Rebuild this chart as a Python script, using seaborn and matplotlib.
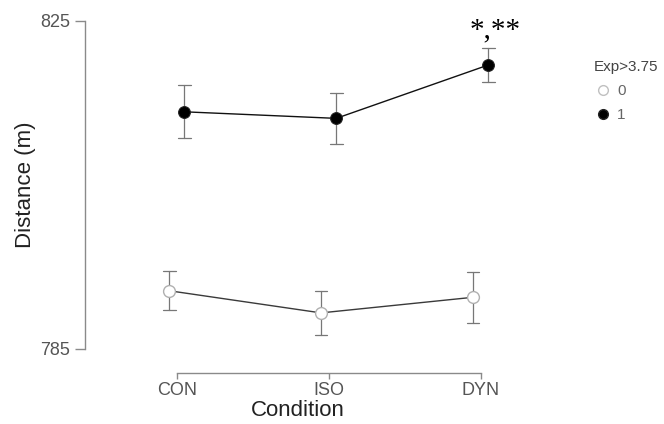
import pandas as pd
import matplotlib
matplotlib.use("Agg")
import matplotlib.pyplot as plt
from matplotlib.lines import Line2D
import seaborn as sns

# values (mean +/- error bar half-width)
conditions = ["CON", "ISO", "DYN"]
groups = ["0", "1"]
mean_exp0 = [792.1, 789.4, 791.3]
err_exp0 = [2.35, 2.7, 3.1]
mean_exp1 = [813.9, 813.1, 819.6]
err_exp1 = [3.25, 3.1, 2.1]
y_ticks = [785, 825]
annotation = "*,**"

# three rows per point: low, mean, high -> mean estimator + 100% interval
rows = []
for grp, means, errs in [("0", mean_exp0, err_exp0), ("1", mean_exp1, err_exp1)]:
    for cond, m, e in zip(conditions, means, errs):
        for v in (m - e, m, m + e):
            rows.append({"Condition": cond, "Exp": grp, "Distance": v})
df = pd.DataFrame(rows)

sns.set_style("white")
plt.rcParams["font.family"] = ["Liberation Sans", "DejaVu Sans"]

fig = plt.figure(figsize=(6.64, 4.24), dpi=100)
ax = fig.add_axes([85 / 664, 75 / 424, 426 / 664, 328.3 / 424])

sns.pointplot(data=df, x="Condition", y="Distance", hue="Exp",
              order=conditions, hue_order=groups, estimator="mean",
              errorbar=("pi", 100), dodge=0.1,
              palette={"0": "#3a3a3a", "1": "#111111"},
              markers="o", linestyles="-", capsize=0.085,
              err_kws={"color": "#777777", "linewidth": 0.9},
              linewidth=1.0, markersize=8.5, legend=False, ax=ax)

# restyle the point lines: open grey markers for group 0
point_lines = [ln for ln in ax.lines if ln.get_marker() == "o"]
for i, ln in enumerate(point_lines):
    ln.set_zorder(5)
    if i == 0:
        ln.set_markerfacecolor("white")
        ln.set_markeredgecolor("#b0b0b0")
        ln.set_markeredgewidth(1.0)
    else:
        ln.set_markerfacecolor("black")
        ln.set_markeredgecolor("#222222")

ax.set_xlim(-0.603, 2.2)
ax.set_ylim(785, 825)
ax.set_yticks(y_ticks)

sns.despine(ax=ax, top=True, right=True)
ax.spines["bottom"].set_position(("outward", 17))
ax.spines["bottom"].set_bounds(0, 2)
for s in ("left", "bottom"):
    ax.spines[s].set_color("#8a8a8a")
    ax.spines[s].set_linewidth(1.0)

ax.tick_params(axis="y", length=7, width=1.0, color="#8a8a8a", pad=3.5,
               labelsize=13, labelcolor="#555555", left=True)
ax.tick_params(axis="x", length=4.5, width=1.0, color="#8a8a8a", pad=2.5,
               labelsize=13, labelcolor="#555555", bottom=True)

ax.set_xlabel("Condition", fontsize=16, color="#222222", labelpad=0.5)
ax.set_ylabel("Distance (m)", fontsize=16, color="#222222", labelpad=3)

ax.text(2.094, 823.0, annotation, fontsize=21, ha="center", va="baseline",
        family=["Liberation Serif", "DejaVu Serif"], color="black",
        clip_on=False)

handles = [
    Line2D([], [], linestyle="none", marker="o", markersize=7,
           markerfacecolor="white", markeredgecolor="#c0c0c0"),
    Line2D([], [], linestyle="none", marker="o", markersize=7,
           markerfacecolor="black", markeredgecolor="#222222"),
]
leg = fig.legend(handles, groups, title="Exp>3.75", loc="upper left",
                 bbox_to_anchor=(588 / 664, 1 - 54 / 424), frameon=False,
                 fontsize=11, title_fontsize=11, alignment="left",
                 handletextpad=0.3, labelspacing=0.65, handlelength=1.2,
                 borderaxespad=0)
leg.get_title().set_color("#444444")
for t in leg.get_texts():
    t.set_color("#666666")

fig.savefig("out.png", dpi=100)
